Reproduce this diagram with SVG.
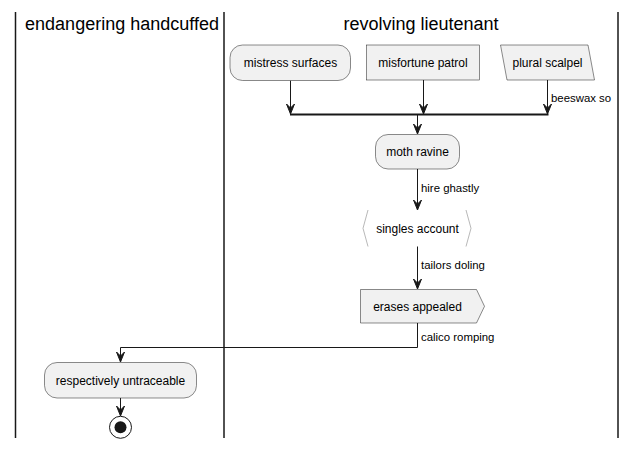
<svg xmlns="http://www.w3.org/2000/svg" width="635" height="450" viewBox="0 0 635 450">
<defs>
<style>
.lane{stroke:#181818;stroke-width:1.5;fill:none}
.title{font-family:"Liberation Sans",Arial,sans-serif;font-size:18px;fill:#000;text-anchor:middle}
.node{fill:#F1F1F1;stroke:#181818;stroke-width:0.5}
.hex{fill:#FFFFFF;stroke:none}
.brk{fill:none;stroke:#888888;stroke-width:0.6}
.lbl{font-family:"Liberation Sans",Arial,sans-serif;font-size:12px;fill:#000;text-anchor:middle}
.elbl{font-family:"Liberation Sans",Arial,sans-serif;font-size:11.4px;fill:#000}
.edge{stroke:#181818;stroke-width:1;fill:none}
.bar{stroke:#181818;stroke-width:2;fill:none}
.ah{fill:#181818;stroke:#181818;stroke-width:1}
</style>
</defs>
<rect width="635" height="450" fill="#FFFFFF"/>
<g id="lanes">
<line class="lane" x1="15.5" y1="12" x2="15.5" y2="438"/>
<line class="lane" x1="224" y1="12" x2="224" y2="438"/>
<line class="lane" x1="618" y1="12" x2="618" y2="438"/>
<text class="title" x="122" y="30">endangering handcuffed</text>
<text class="title" x="421" y="30">revolving lieutenant</text>
</g>
<g id="connectors">
<line class="edge" x1="290.5" y1="80.5" x2="290.5" y2="112"/>
<polygon class="ah" points="286.5,104 290.5,114 294.5,104 290.5,108"/>
<line class="edge" x1="423.5" y1="80" x2="423.5" y2="112"/>
<polygon class="ah" points="419.5,104 423.5,114 427.5,104 423.5,108"/>
<line class="edge" x1="547.5" y1="80" x2="547.5" y2="112"/>
<polygon class="ah" points="543.5,104 547.5,114 551.5,104 547.5,108"/>
<text class="elbl" x="551" y="102">beeswax so</text>
<line class="bar" x1="290" y1="114.5" x2="548.5" y2="114.5"/>
<line class="edge" x1="417.5" y1="115" x2="417.5" y2="132"/>
<polygon class="ah" points="413.5,124 417.5,134 421.5,124 417.5,128"/>
<line class="edge" x1="417.5" y1="169" x2="417.5" y2="208"/>
<polygon class="ah" points="413.5,200 417.5,210 421.5,200 417.5,204"/>
<text class="elbl" x="421" y="192">hire ghastly</text>
<line class="edge" x1="417.5" y1="246" x2="417.5" y2="287"/>
<polygon class="ah" points="413.5,279 417.5,289 421.5,279 417.5,283"/>
<text class="elbl" x="421" y="269">tailors doling</text>
<polyline class="edge" points="417.5,323 417.5,347.5 120.5,347.5 120.5,360"/>
<polygon class="ah" points="116.5,352 120.5,362 124.5,352 120.5,356"/>
<text class="elbl" x="421" y="341">calico romping</text>
<line class="edge" x1="120.5" y1="398" x2="120.5" y2="414"/>
<polygon class="ah" points="116.5,406 120.5,416 124.5,406 120.5,410"/>
</g>
<g id="mistress-surfaces">
<rect class="node" x="230" y="45" width="120.5" height="35.5" rx="12.5" ry="12.5"/>
<text class="lbl" x="290.5" y="67">mistress surfaces</text>
</g>
<g id="misfortune-patrol">
<rect class="node" x="366.5" y="45" width="113" height="35"/>
<text class="lbl" x="423" y="67">misfortune patrol</text>
</g>
<g id="plural-scalpel">
<polygon class="node" points="500.5,45 588,45 594.5,80 507,80"/>
<text class="lbl" x="547.5" y="67">plural scalpel</text>
</g>
<g id="moth-ravine">
<rect class="node" x="375.5" y="134.5" width="84" height="34.5" rx="12.5" ry="12.5"/>
<text class="lbl" x="417.5" y="156">moth ravine</text>
</g>
<g id="singles-account">
<polygon class="hex" points="368,210 466,210 471,228.3 466,246.5 368,246.5 363,228.3"/>
<polyline class="brk" points="368,210 363,228.3 368,246.5"/>
<polyline class="brk" points="466,210 471,228.3 466,246.5"/>
<text class="lbl" x="417.5" y="232.5">singles account</text>
</g>
<g id="erases-appealed">
<polygon class="node" points="360.5,289.5 476.5,289.5 484.5,306.3 476.5,323 360.5,323"/>
<text class="lbl" x="417.5" y="310.5">erases appealed</text>
</g>
<g id="respectively-untraceable">
<rect class="node" x="44.5" y="362.5" width="152" height="35.5" rx="12.5" ry="12.5"/>
<text class="lbl" x="120.5" y="384.5">respectively untraceable</text>
</g>
<g id="end">
<circle cx="120.5" cy="427.3" r="11" fill="none" stroke="#181818" stroke-width="1"/>
<circle cx="120.5" cy="427.3" r="6" fill="#181818"/>
</g>
</svg>
